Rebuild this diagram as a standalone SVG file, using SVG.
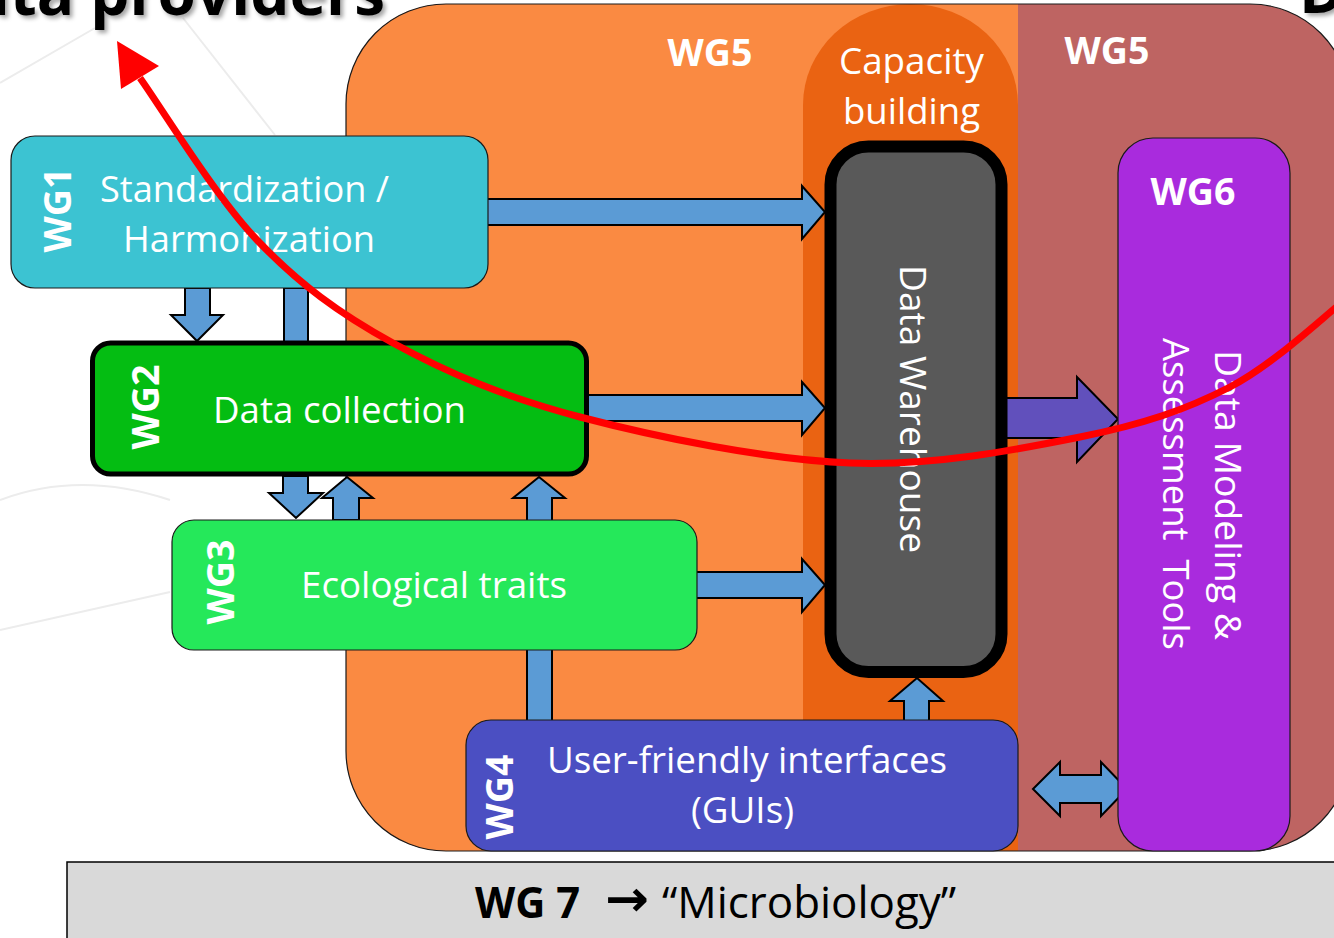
<svg xmlns="http://www.w3.org/2000/svg" width="1334" height="938" viewBox="0 0 1334 938">
<defs>
<style>
.body{font-family:"Open Sans","Noto Sans","Liberation Sans",sans-serif;font-size:37px;fill:#fff}
.bold{font-family:"Open Sans","Noto Sans","Liberation Sans",sans-serif;font-weight:bold;font-size:38px;fill:#fff}
.title{font-family:"Open Sans","Noto Sans","Liberation Sans",sans-serif;font-weight:bold;font-size:62px;fill:#000}
.node{stroke:#1a1a1a;stroke-width:1.2}
.barrow{fill:#5B9BD5;stroke:#000;stroke-width:2;stroke-linejoin:miter}
.bg{stroke:#ececec;stroke-width:2;fill:none}
</style>
<filter id="sh" x="-10%" y="-50%" width="120%" height="200%">
<feDropShadow dx="3" dy="3" stdDeviation="2" flood-color="#000" flood-opacity="0.35"/>
</filter>
</defs>
<rect width="1334" height="938" fill="#fff"/>
<g id="background-lines">
<path class="bg" d="M0,83 L95,28"/>
<path class="bg" d="M183,18 L275,135"/>
<path class="bg" d="M0,500 Q80,470 170,500"/>
<path class="bg" d="M0,630 L170,592"/>
</g>
<text class="title" x="385" y="15" text-anchor="end" filter="url(#sh)">ata providers</text>
<text class="title" x="1299" y="13" filter="url(#sh)">D</text>
<g id="wg5-area">
<rect x="346" y="4" width="1004" height="847" rx="100" fill="#BE6462"/>
<path d="M446,4 H1018 V851 H446 A100,100 0 0 1 346,751 V104 A100,100 0 0 1 446,4 Z" fill="#FA8A42"/>
<path d="M803,851 V105 A107.5,101 0 0 1 1018,105 V851 Z" fill="#EA6312"/>
<rect x="346" y="4" width="1004" height="847" rx="100" fill="none" stroke="#1a1a1a" stroke-width="1.2"/>
<text class="bold" x="710" y="66" text-anchor="middle" textLength="85" lengthAdjust="spacingAndGlyphs">WG5</text>
<text class="bold" x="1107" y="64" text-anchor="middle" textLength="85" lengthAdjust="spacingAndGlyphs">WG5</text>
<text class="body" x="839" y="74" textLength="145" lengthAdjust="spacingAndGlyphs">Capacity</text>
<text class="body" x="843" y="124" textLength="137" lengthAdjust="spacingAndGlyphs">building</text>
</g>
<g id="connectors">
<polygon class="barrow" points="487,199 802,199 802,186 825,212 802,239 802,225 487,225"/>
<polygon class="barrow" points="588,395 802,395 802,382 825,408 802,435 802,421 588,421"/>
<polygon class="barrow" points="696,572 802,572 802,559 825,585 802,612 802,598 696,598"/>
<polygon points="1006,398 1077,398 1077,377 1118,419 1077,462 1077,438 1006,438" fill="#6150BC" stroke="#000" stroke-width="2"/>
<polygon class="barrow" points="185,288 210,288 210,315 223,315 197,341 171,315 185,315"/>
<rect class="barrow" x="284" y="288" width="24" height="54"/>
<polygon class="barrow" points="283,476 308,476 308,493 323,493 296,518 269,493 283,493"/>
<polygon class="barrow" points="333,520 359,520 359,498 373,498 347,477 322,498 333,498"/>
<polygon class="barrow" points="527,721 552,721 552,498 565,498 539,477 513,498 527,498"/>
<polygon class="barrow" points="904,721 929,721 929,701 943,701 917,678 890,701 904,701"/>
<polygon class="barrow" points="1033,789 1060,762 1060,775 1101,775 1101,762 1127,789 1101,816 1101,803 1060,803 1060,816"/>
</g>
<g id="wg1">
<rect class="node" x="11" y="136" width="477" height="152" rx="24" fill="#3CC3D2"/>
<text class="bold" transform="translate(71,210) rotate(-90)" text-anchor="middle" font-size="40" textLength="85" lengthAdjust="spacingAndGlyphs">WG1</text>
<text class="body" x="100" y="202" textLength="289" lengthAdjust="spacingAndGlyphs">Standardization /</text>
<text class="body" x="123" y="252" textLength="252" lengthAdjust="spacingAndGlyphs">Harmonization</text>
</g>
<g id="wg2">
<rect x="92.5" y="343" width="494" height="131" rx="18" fill="#04BD12" stroke="#000" stroke-width="5"/>
<text class="bold" transform="translate(159,407) rotate(-90)" text-anchor="middle" font-size="40" textLength="85" lengthAdjust="spacingAndGlyphs">WG2</text>
<text class="body" x="213" y="423" textLength="253" lengthAdjust="spacingAndGlyphs">Data collection</text>
</g>
<g id="wg3">
<rect class="node" x="172" y="520" width="525" height="130" rx="22" fill="#25E85A"/>
<text class="bold" transform="translate(234,582) rotate(-90)" text-anchor="middle" font-size="40" textLength="85" lengthAdjust="spacingAndGlyphs">WG3</text>
<text class="body" x="301" y="598" textLength="266" lengthAdjust="spacingAndGlyphs">Ecological traits</text>
</g>
<g id="wg4">
<rect class="node" x="466" y="720" width="552" height="131" rx="25" fill="#4B4FC2"/>
<text class="bold" transform="translate(513,797) rotate(-90)" text-anchor="middle" font-size="40" textLength="85" lengthAdjust="spacingAndGlyphs">WG4</text>
<text class="body" x="547" y="773" textLength="400" lengthAdjust="spacingAndGlyphs">User-friendly interfaces</text>
<text class="body" x="691" y="823" textLength="103" lengthAdjust="spacingAndGlyphs">(GUIs)</text>
</g>
<g id="data-warehouse">
<rect x="830.5" y="146.5" width="171" height="525.5" rx="38" fill="#595959" stroke="#000" stroke-width="12"/>
<text class="body" transform="translate(900,409) rotate(90)" text-anchor="middle" textLength="288" lengthAdjust="spacingAndGlyphs">Data Warehouse</text>
</g>
<g id="wg6">
<rect class="node" x="1118" y="138" width="172" height="713" rx="35" fill="#A92BDD"/>
<text class="bold" x="1193" y="205" text-anchor="middle" textLength="85" lengthAdjust="spacingAndGlyphs">WG6</text>
<text class="body" transform="translate(1215,495) rotate(90)" text-anchor="middle" textLength="290" lengthAdjust="spacingAndGlyphs">Data Modeling &amp;</text>
<text class="body" transform="translate(1163,494) rotate(90)" text-anchor="middle" textLength="312" lengthAdjust="spacingAndGlyphs" xml:space="preserve">Assessment  Tools</text>
</g>
<g id="red-arrow">
<polygon points="117,41 121,89 159,66" fill="#FF0000"/>
<path d="M140,78 C159.5,105 214.8,195.8 257,240 C299.2,284.2 339.2,313.5 393,343 C446.8,372.5 503.8,397 580,417 C656.2,437 766.7,459.7 850,463 C933.3,466.3 1016.7,449.7 1080,437 C1143.3,424.3 1185.8,409.8 1230,387 C1274.2,364.2 1325.8,314.5 1345,300" fill="none" stroke="#FF0000" stroke-width="7"/>
</g>
<g id="wg7">
<rect x="67" y="862" width="1280" height="80" fill="#D9D9D9" stroke="#000" stroke-width="1.5"/>
<text x="475" y="918" font-family="'Open Sans','Noto Sans','Liberation Sans',sans-serif" font-size="43" fill="#000"><tspan font-weight="bold" textLength="105" lengthAdjust="spacingAndGlyphs">WG 7</tspan><tspan x="605" y="916" font-family="'DejaVu Sans',sans-serif" font-weight="bold" font-size="50" textLength="44" lengthAdjust="spacingAndGlyphs">→</tspan><tspan x="662" y="918" textLength="294" lengthAdjust="spacingAndGlyphs">“Microbiology”</tspan></text>
</g>
</svg>
